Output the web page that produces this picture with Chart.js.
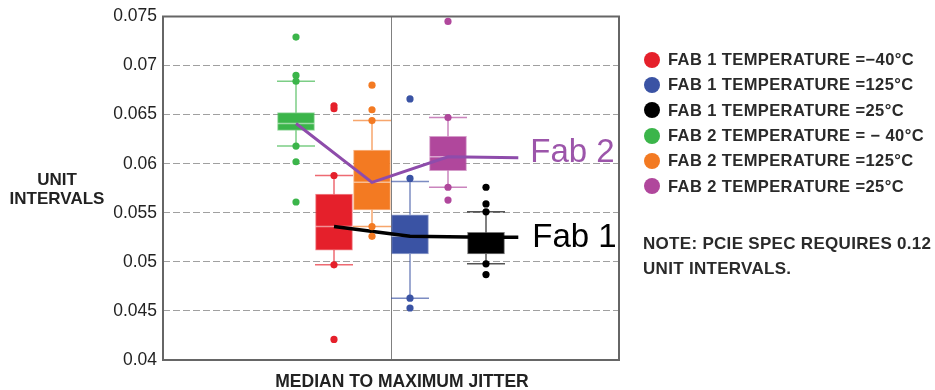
<!DOCTYPE html>
<html>
<head>
<meta charset="utf-8">
<title>Median to maximum jitter</title>
<script src="https://cdn.jsdelivr.net/npm/chart.js@4.4.1/dist/chart.umd.min.js"></script>
<style>
  body { margin: 0; background: #fff; }
  .wrap {
    position: relative;
    width: 935px;
    height: 390px;
    font-family: "Liberation Sans", Arial, sans-serif;
    color: #2a2a2a;
  }
  .wrap canvas { position: absolute; left: 0; top: 0; }
  .y-title {
    position: absolute; left: 0; top: 170px; width: 114px;
    text-align: center; font-weight: bold; font-size: 17px; line-height: 19px; color: #222;
  }
  .x-title {
    position: absolute; left: 252px; top: 372px; width: 300px;
    text-align: center; font-weight: bold; font-size: 17.5px; line-height: 19px; color: #222;
  }
  .legend { position: absolute; left: 644px; top: 47px; }
  .legend__item {
    display: flex; align-items: center; height: 25.3px;
    font-weight: bold; font-size: 16.5px; letter-spacing: 0.4px; white-space: nowrap;
  }
  .legend__dot { width: 16px; height: 16px; border-radius: 50%; margin-right: 8px; }
  .note {
    position: absolute; left: 643px; top: 231px;
    font-weight: bold; font-size: 17px; letter-spacing: 0.3px; line-height: 25px; white-space: nowrap;
  }
</style>
</head>
<body>
<div class="wrap">
  <canvas id="chart"></canvas>
  <div class="y-title">UNIT<br>INTERVALS</div>
  <div class="x-title">MEDIAN TO MAXIMUM JITTER</div>
  <div class="legend js-legend"></div>
  <div class="note">NOTE: PCIE SPEC REQUIRES 0.12<br>UNIT INTERVALS.</div>
</div>
<script>
// groups in legend order
const groupLabels = [
  "FAB 1 TEMPERATURE =\u221240\u00b0C",
  "FAB 1 TEMPERATURE =125\u00b0C",
  "FAB 1 TEMPERATURE =25\u00b0C",
  "FAB 2 TEMPERATURE = \u2212 40\u00b0C",
  "FAB 2 TEMPERATURE =125\u00b0C",
  "FAB 2 TEMPERATURE =25\u00b0C",
];
const groupColors = ["#e5202b", "#3a53a4", "#000000", "#3bb54a", "#f37a22", "#b0479c"];
const groupPositions = [4.5, 6.5, 8.5, 3.5, 5.5, 7.5];

const whiskerLow = [0.0497, 0.0463, 0.0498, 0.0618, 0.0536, 0.0576];
const boxLow = [0.0512, 0.0508, 0.0508, 0.0634, 0.0553, 0.0593];
const medians = [0.0536, 0.0526, 0.0525, 0.0641, 0.0581, 0.0607];
const boxHigh = [0.0569, 0.0548, 0.0530, 0.0652, 0.0614, 0.0628];
const whiskerHigh = [0.0588, 0.0582, 0.0551, 0.0684, 0.0644, 0.0647];

// dots: outliers and whisker ends
const markers = [
  [0.0659, 0.0656, 0.0588, 0.0497, 0.0421],
  [0.0666, 0.0585, 0.0463, 0.0453],
  [0.0576, 0.0559, 0.0551, 0.0498, 0.0487],
  [0.0729, 0.0690, 0.0684, 0.0618, 0.0602, 0.0561],
  [0.0680, 0.0655, 0.0644, 0.0536, 0.0526],
  [0.0745, 0.0647, 0.0576, 0.0563],
];

const fab1Positions = [4.5, 6.5, 8.5, 9.35];
const fab1Values = [0.0536, 0.0526, 0.0525, 0.0525];
const fab2Positions = [3.5, 5.5, 7.5, 9.35];
const fab2Values = [0.0641, 0.0581, 0.0607, 0.0606];

const yTicks = [0.04, 0.045, 0.05, 0.055, 0.06, 0.065, 0.07, 0.075];

const CAP_HALF = 0.5;
const MEDIAN_HALF = 0.485;

const renderLegend = () => {
  const legend = document.querySelector(`.js-legend`);
  legend.innerHTML = groupLabels
    .map((label, i) => `<div class="legend__item">
      <span class="legend__dot" style="background:${groupColors[i]}"></span>${label}</div>`)
    .join(``);
};

const whiskerPoints = (i) => {
  const x = groupPositions[i];
  const gap = { x, y: null };
  return [
    { x, y: whiskerLow[i] }, { x, y: boxLow[i] }, gap,
    { x, y: boxHigh[i] }, { x, y: whiskerHigh[i] }, gap,
    { x: x - CAP_HALF, y: whiskerLow[i] }, { x: x + CAP_HALF, y: whiskerLow[i] }, gap,
    { x: x - CAP_HALF, y: whiskerHigh[i] }, { x: x + CAP_HALF, y: whiskerHigh[i] },
  ];
};

const medianPoints = groupPositions.flatMap((x, i) => [
  { x: x - MEDIAN_HALF, y: medians[i] },
  { x: x + MEDIAN_HALF, y: medians[i] },
  { x, y: null },
]);

const chartFrame = {
  id: "chartFrame",
  beforeDatasetsDraw(chart, args, options) {
    const { ctx, chartArea: { left, top, width, height } } = chart;
    ctx.save();
    ctx.strokeStyle = options.borderColor;
    ctx.lineWidth = options.borderWidth;
    ctx.strokeRect(left, top, width, height);
    ctx.restore();
  },
};

const fabLabels = {
  id: "fabLabels",
  afterDatasetsDraw(chart, args, options) {
    const { ctx } = chart;
    ctx.save();
    ctx.font = options.font;
    ctx.textBaseline = "alphabetic";
    options.items.forEach((item) => {
      const points = chart.getDatasetMeta(item.dataset).data;
      const last = points[points.length - 1];
      ctx.fillStyle = item.color;
      ctx.fillText(item.text, last.x + item.dx, last.y + item.dy);
    });
    ctx.restore();
  },
};

const datasets = [
  ...groupColors.map((color, i) => ({
    type: "line",
    data: whiskerPoints(i),
    borderColor: color + "aa",
    borderWidth: 1.5,
    pointRadius: 0,
    spanGaps: false,
    order: 5,
  })),
  {
    type: "bar",
    data: groupPositions.map((x, i) => ({ x, y: [boxLow[i], boxHigh[i]] })),
    backgroundColor: groupColors,
    borderColor: groupColors.map((c) => c + "88"),
    borderWidth: 1,
    borderSkipped: false,
    barThickness: 37,
    order: 4,
  },
  {
    type: "line",
    data: medianPoints,
    borderColor: "rgba(255,255,255,0.5)",
    borderWidth: 1.5,
    pointRadius: 0,
    spanGaps: false,
    order: 3,
  },
  ...groupColors.map((color, i) => ({
    type: "scatter",
    data: markers[i].map((y) => ({ x: groupPositions[i], y })),
    backgroundColor: color,
    borderWidth: 0,
    pointRadius: 3.6,
    order: 1,
  })),
  {
    type: "line",
    data: fab1Positions.map((x, i) => ({ x, y: fab1Values[i] })),
    borderColor: "#000000",
    borderWidth: 3.5,
    pointRadius: 0,
    order: 2,
  },
  {
    type: "line",
    data: fab2Positions.map((x, i) => ({ x, y: fab2Values[i] })),
    borderColor: "#8e4cab",
    borderWidth: 3,
    pointRadius: 0,
    order: 2,
  },
];

const FAB1_INDEX = datasets.length - 2;
const FAB2_INDEX = datasets.length - 1;

renderLegend();

new Chart(document.getElementById("chart"), {
  type: "scatter",
  data: { datasets },
  options: {
    responsive: true,
    maintainAspectRatio: false,
    animation: false,
    devicePixelRatio: 1,
    layout: { padding: { left: 0, top: 16, right: 316, bottom: 0 } },
    scales: {
      x: {
        type: "linear",
        min: 0,
        max: 12,
        offset: false,
        afterBuildTicks: (scale) => {
          scale.ticks = [{ value: 6 }];
        },
        afterFit: (scale) => {
          scale.height = 30;
        },
        ticks: { display: false },
        grid: { color: "#808080", lineWidth: 1, drawTicks: false, offset: false },
        border: { display: false },
      },
      y: {
        type: "linear",
        min: 0.04,
        max: 0.075,
        afterBuildTicks: (scale) => {
          scale.ticks = yTicks.map((value) => ({ value }));
        },
        afterFit: (scale) => {
          scale.width = 163;
        },
        ticks: {
          padding: 6,
          color: "#222",
          font: { size: 17.5, family: "Liberation Sans" },
          callback: (value) => String(value),
        },
        grid: { color: "#a0a0a0", lineWidth: 1, drawTicks: false },
        border: { display: false, dash: [7, 3] },
      },
    },
    plugins: {
      legend: { display: false },
      tooltip: { enabled: false },
      chartFrame: { borderColor: "#666", borderWidth: 2 },
      fabLabels: {
        font: "33px 'Liberation Sans'",
        items: [
          { dataset: FAB2_INDEX, text: "Fab 2", color: "#9c55aa", dx: 12, dy: 4 },
          { dataset: FAB1_INDEX, text: "Fab 1", color: "#000000", dx: 14, dy: 10 },
        ],
      },
    },
  },
  plugins: [chartFrame, fabLabels],
});
</script>
</body>
</html>
